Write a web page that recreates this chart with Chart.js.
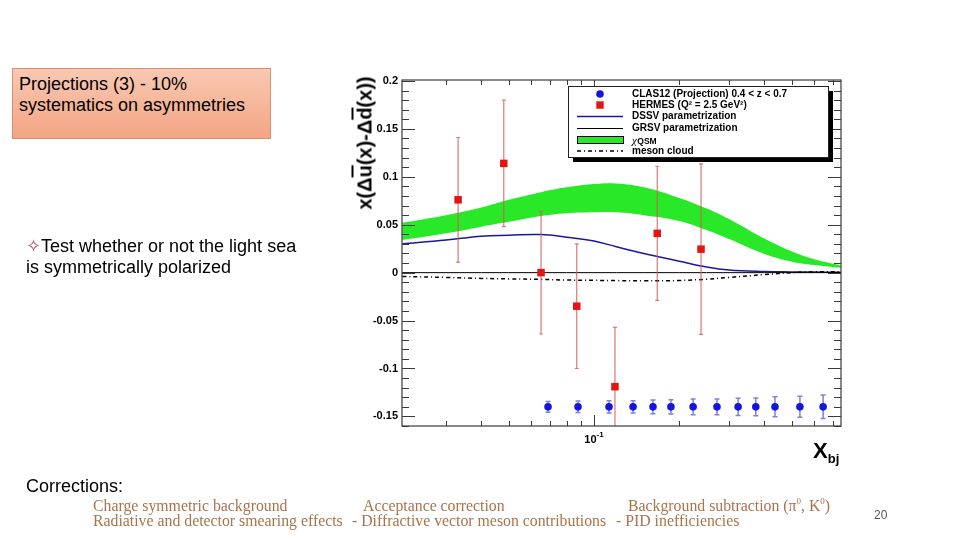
<!DOCTYPE html>
<html>
<head>
<meta charset="utf-8">
<script src="https://cdn.jsdelivr.net/npm/chart.js@4"></script>
<style>
  html, body { margin: 0; padding: 0; background: #fff; }
  #slide { position: relative; width: 960px; height: 540px; overflow: hidden; font-family: "Liberation Sans", Arial, sans-serif; }
  #chart { position: absolute; left: 0; top: 0; }
  .txt { position: absolute; color: #000; white-space: nowrap; font-size: 18px; line-height: 21px; }
  .box { position: absolute; left: 12px; top: 68px; width: 257px; height: 69px; border: 1px solid #d8906c;
         background: linear-gradient(#f9c8b2, #f3a584); }
  .serif { position: absolute; white-space: nowrap; font-family: "Liberation Serif", "Times New Roman", serif;
           font-size: 15.8px; line-height: 15px; color: #a8744c; }
  .serif sup { font-size: 9px; line-height: 0; position: relative; top: -1px; vertical-align: super; }
  .ytitle { position: absolute; left: 365px; top: 143px; transform: translate(-50%, -50%) rotate(-90deg);
            font-weight: bold; font-size: 20px; white-space: nowrap; }
  .ov { text-decoration: overline; }
  .xtitle { position: absolute; left: 813px; top: 438px; font-weight: bold; font-size: 22px; }
  .xtitle sub { font-size: 13px; vertical-align: -5px; }
</style>
</head>
<body>
<div id="slide">
  <canvas id="chart" width="960" height="540"></canvas>

  <div class="box"></div>
  <div class="txt" style="left:19px; top:74px;">Projections (3) - 10%<br>systematics on asymmetries</div>

  <div class="txt" style="left:26px; top:236px;"><span style="color:#a04848;">&#x2727;</span>Test whether or not the light sea<br>is symmetrically polarized</div>

  <div class="txt" style="left:26px; top:476px;">Corrections:</div>

  <div class="serif" style="left:93px; top:498px;">Charge symmetric background</div>
  <div class="serif" style="left:363px; top:498px;">Acceptance correction</div>
  <div class="serif" style="left:628px; top:498px;">Background subtraction (&pi;<sup>0</sup>, K<sup>0</sup>)</div>
  <div class="serif" style="left:93px; top:513px;">Radiative and detector smearing effects</div>
  <div class="serif" style="left:352px; top:513px;">- Diffractive vector meson contributions</div>
  <div class="serif" style="left:616px; top:513px;">- PID inefficiencies</div>

  <div class="txt" style="left:874px; top:507px; font-size:12px; line-height:16px; color:#555;">20</div>

  <div class="ytitle">x(&Delta;<span class="ov">u</span>(x)-&Delta;<span class="ov">d</span>(x))</div>
  <div class="xtitle">X<sub>bj</sub></div>
</div>

<script>
// curve sampling points (x_bj)
const curveX    = [0.021, 0.03, 0.04, 0.05, 0.065, 0.08, 0.1, 0.12, 0.15, 0.2, 0.25, 0.3, 0.4, 0.5, 0.6, 0.745];
const qsmUpper  = [0.052, 0.060, 0.068, 0.076, 0.084, 0.089, 0.0925, 0.093, 0.089, 0.078, 0.067, 0.056, 0.0355, 0.022, 0.014, 0.0075];
const qsmLower  = [0.034, 0.041, 0.048, 0.053, 0.059, 0.062, 0.063, 0.063, 0.060, 0.054, 0.0445, 0.035, 0.0195, 0.0115, 0.008, 0.005];
const dssv      = [0.030, 0.034, 0.038, 0.039, 0.0397, 0.037, 0.033, 0.027, 0.020, 0.012, 0.006, 0.0028, 0.0012, 0.0008, 0.0006, 0.0005];
const grsv      = [0, 0, 0, 0, 0, 0, 0, 0, 0, 0, 0, 0, 0, 0, 0, 0];
const mesonCloud = [-0.004, -0.005, -0.006, -0.0065, -0.007, -0.0077, -0.008, -0.0083, -0.0085, -0.0082, -0.0068, -0.005, -0.002, 0.0, 0.0008, 0.001];

// HERMES points
const hermesX   = [0.0331, 0.0480, 0.0650, 0.0869, 0.1186, 0.1673, 0.2389];
const hermesY   = [0.076, 0.114, 0.000, -0.035, -0.119, 0.041, 0.0245];
const hermesErr = [0.065, 0.066, 0.064, 0.065, 0.062, 0.070, 0.089];

// CLAS12 projection
const clasX   = [0.0688, 0.0878, 0.113, 0.1374, 0.1616, 0.187, 0.224, 0.272, 0.323, 0.373, 0.436, 0.534, 0.645];
const clasY   = [-0.14, -0.14, -0.14, -0.14, -0.14, -0.14, -0.14, -0.14, -0.14, -0.14, -0.14, -0.14, -0.14];
const clasErr = [0.0056, 0.006, 0.0064, 0.0064, 0.0071, 0.0075, 0.0082, 0.0083, 0.009, 0.0092, 0.0104, 0.011, 0.0123];

// axes
const yTicks      = [-0.15, -0.1, -0.05, 0, 0.05, 0.1, 0.15, 0.2];
const yMinorStep  = 0.01;
const xMajorTicks = [0.1];
const xMajorLabels = [['10', '-1']];
const xMinorTicks = [0.03, 0.04, 0.05, 0.06, 0.07, 0.08, 0.09, 0.2, 0.3, 0.4, 0.5, 0.6, 0.7];

const legendLabels = ['CLAS12 (Projection) 0.4 < z < 0.7', 'HERMES (Q\u00B2 = 2.5 GeV\u00B2)',
                      'DSSV parametrization', 'GRSV parametrization', 'QSM', 'meson cloud'];

const RED = 'rgb(228,20,20)';
const BLUE = 'rgb(20,20,225)';
const GREEN = 'rgb(40,232,40)';
const NAVY = 'rgb(25,25,160)';
const FONT = '"Liberation Sans", Arial, sans-serif';

const pts = (xs, ys) => xs.map((x, i) => ({ x: x, y: ys[i] }));

function drawErrors(chart, xs, ys, errs, color, width, cap) {
    const ctx = chart.ctx, sx = chart.scales.x, sy = chart.scales.y, a = chart.chartArea;
    ctx.save();
    ctx.beginPath();
    ctx.rect(a.left, a.top, a.right - a.left, a.bottom - a.top);
    ctx.clip();
    ctx.strokeStyle = color;
    ctx.lineWidth = width;
    xs.forEach((x, i) => {
        const px = sx.getPixelForValue(x);
        const top = sy.getPixelForValue(ys[i] + errs[i]);
        const bot = sy.getPixelForValue(ys[i] - errs[i]);
        ctx.beginPath();
        ctx.moveTo(px, top); ctx.lineTo(px, bot);
        ctx.moveTo(px - cap, top); ctx.lineTo(px + cap, top);
        ctx.moveTo(px - cap, bot); ctx.lineTo(px + cap, bot);
        ctx.stroke();
    });
    ctx.restore();
}

const errorBars = {
    id: 'errorBars',
    beforeDatasetDraw(chart, args) {
        if (args.index === 0) drawErrors(chart, clasX, clasY, clasErr, 'rgba(85,85,205,0.75)', 1.5, 2.5);
        if (args.index === 1) drawErrors(chart, hermesX, hermesY, hermesErr, 'rgba(215,85,85,0.8)', 1.2, 2);
    }
};

const frame = {
    id: 'frame',
    afterDatasetsDraw(chart) {
        const ctx = chart.ctx, sx = chart.scales.x, sy = chart.scales.y, a = chart.chartArea;
        ctx.save();
        ctx.strokeStyle = '#3a3a3a';
        ctx.lineWidth = 1.2;
        ctx.strokeRect(a.left, a.top, a.right - a.left, a.bottom - a.top);
        ctx.lineWidth = 1;
        ctx.beginPath();
        // y ticks, both sides
        for (let k = -16; k <= 20; k++) {
            const v = k * yMinorStep;
            const py = Math.round(sy.getPixelForValue(v)) + 0.5;
            const major = k % 5 === 0;
            const len = major ? 13 : 7;
            ctx.moveTo(a.left, py); ctx.lineTo(a.left + len, py);
            ctx.moveTo(a.right, py); ctx.lineTo(a.right - len, py);
        }
        // x ticks, bottom and top
        xMinorTicks.concat(xMajorTicks).forEach(v => {
            const px = Math.round(sx.getPixelForValue(v)) + 0.5;
            const len = xMajorTicks.includes(v) ? 11 : 5;
            ctx.moveTo(px, a.bottom); ctx.lineTo(px, a.bottom - len);
            ctx.moveTo(px, a.top); ctx.lineTo(px, a.top + len);
        });
        ctx.stroke();

        // x tick labels (10^-1)
        ctx.fillStyle = '#000';
        ctx.textBaseline = 'middle';
        xMajorTicks.forEach((v, i) => {
            const px = sx.getPixelForValue(v);
            ctx.font = 'bold 11px ' + FONT;
            const base = xMajorLabels[i][0];
            const w1 = ctx.measureText(base).width;
            ctx.font = 'bold 8px ' + FONT;
            const w2 = ctx.measureText(xMajorLabels[i][1]).width;
            const x0 = px - (w1 + w2) / 2;
            ctx.font = 'bold 11px ' + FONT;
            ctx.textAlign = 'left';
            ctx.fillText(base, x0, a.bottom + 14);
            ctx.font = 'bold 8px ' + FONT;
            ctx.fillText(xMajorLabels[i][1], x0 + w1, a.bottom + 9);
        });
        ctx.restore();
    }
};

const rootLegend = {
    id: 'rootLegend',
    afterDraw(chart) {
        const ctx = chart.ctx;
        const L = 568, T = 86, W = 260, H = 71;
        ctx.save();
        ctx.fillStyle = '#000';
        ctx.fillRect(L + 5, T + 5, W, H);
        ctx.fillStyle = '#fff';
        ctx.fillRect(L, T, W, H);
        ctx.strokeStyle = '#222';
        ctx.lineWidth = 1;
        ctx.strokeRect(L + 0.5, T + 0.5, W, H);

        const rows = [94, 105, 116.5, 128, 140, 151];
        const sx0 = 577, sx1 = 623, scx = 600, tx = 632;
        // CLAS12
        ctx.fillStyle = BLUE;
        ctx.beginPath(); ctx.arc(scx, rows[0], 3.8, 0, Math.PI * 2); ctx.fill();
        // HERMES
        ctx.fillStyle = RED;
        ctx.fillRect(scx - 3.7, rows[1] - 3.7, 7.4, 7.4);
        // DSSV
        ctx.strokeStyle = NAVY; ctx.lineWidth = 1.5;
        ctx.beginPath(); ctx.moveTo(sx0, rows[2]); ctx.lineTo(sx1, rows[2]); ctx.stroke();
        // GRSV
        ctx.strokeStyle = '#000'; ctx.lineWidth = 1;
        ctx.beginPath(); ctx.moveTo(sx0, rows[3] + 0.5); ctx.lineTo(sx1, rows[3] + 0.5); ctx.stroke();
        // QSM band
        ctx.fillStyle = GREEN;
        ctx.fillRect(sx0, rows[4] - 3.5, sx1 - sx0, 7);
        ctx.strokeStyle = '#000';
        ctx.strokeRect(sx0 + 0.5, rows[4] - 3.5, sx1 - sx0, 7);
        // meson cloud
        ctx.setLineDash([4, 3, 1, 3]);
        ctx.lineWidth = 1.5;
        ctx.beginPath(); ctx.moveTo(sx0, rows[5]); ctx.lineTo(sx1, rows[5]); ctx.stroke();
        ctx.setLineDash([]);

        ctx.fillStyle = '#000';
        ctx.textAlign = 'left';
        legendLabels.forEach((t, i) => {
            if (i === 4) {
                ctx.textBaseline = 'alphabetic';
                ctx.font = 'italic 11px "Liberation Serif", serif';
                ctx.fillText('\u03C7', tx, rows[i] + 4);
                const w = ctx.measureText('\u03C7').width;
                ctx.font = 'bold 8.5px ' + FONT;
                ctx.fillText(t, tx + w + 0.5, rows[i] + 4);
            } else {
                ctx.textBaseline = 'middle';
                ctx.font = 'bold 10px ' + FONT;
                ctx.fillText(t, tx, rows[i]);
            }
        });
        ctx.restore();
    }
};

const ctx = document.getElementById('chart');
new Chart(ctx, {
    type: 'line',
    data: {
        datasets: [
            {
                label: legendLabels[0],
                data: pts(clasX, clasY),
                showLine: false,
                pointStyle: 'circle',
                pointRadius: 3.8,
                backgroundColor: BLUE,
                borderColor: BLUE,
                borderWidth: 0,
                order: 0
            },
            {
                label: legendLabels[1],
                data: pts(hermesX, hermesY),
                showLine: false,
                pointStyle: 'rect',
                pointRadius: 5.3,
                backgroundColor: RED,
                borderColor: RED,
                borderWidth: 0,
                order: 1
            },
            {
                label: legendLabels[5],
                data: pts(curveX, mesonCloud),
                borderColor: '#000',
                borderWidth: 1.5,
                borderDash: [4, 3, 1, 3],
                pointRadius: 0,
                tension: 0.4,
                order: 2
            },
            {
                label: legendLabels[3],
                data: pts(curveX, grsv),
                borderColor: '#000',
                borderWidth: 1,
                pointRadius: 0,
                order: 3
            },
            {
                label: legendLabels[2],
                data: pts(curveX, dssv),
                borderColor: NAVY,
                borderWidth: 1.5,
                pointRadius: 0,
                tension: 0.4,
                order: 4
            },
            {
                label: 'QSM upper',
                data: pts(curveX, qsmUpper),
                borderColor: 'rgba(0,0,0,0)',
                borderWidth: 0.01,
                backgroundColor: GREEN,
                fill: '+1',
                pointRadius: 0,
                tension: 0.4,
                order: 5
            },
            {
                label: 'QSM lower',
                data: pts(curveX, qsmLower),
                borderColor: 'rgba(0,0,0,0)',
                borderWidth: 0.01,
                pointRadius: 0,
                tension: 0.4,
                order: 6
            }
        ]
    },
    options: {
        responsive: false,
        animation: false,
        devicePixelRatio: 1,
        layout: { padding: { left: 342, right: 119, top: 80, bottom: 84 } },
        plugins: {
            legend: { display: false },
            tooltip: { enabled: false }
        },
        scales: {
            x: {
                type: 'logarithmic',
                min: 0.02097,
                max: 0.746,
                grid: { display: false },
                border: { display: false },
                ticks: { display: false },
                afterBuildTicks: scale => { scale.ticks = xMajorTicks.map(v => ({ value: v })); },
                afterFit: scale => { scale.height = 30; }
            },
            y: {
                min: -0.16,
                max: 0.201,
                grid: { display: false, drawTicks: false },
                border: { display: false },
                afterBuildTicks: scale => { scale.ticks = yTicks.map(v => ({ value: v })); },
                afterFit: scale => { scale.width = 60; },
                ticks: {
                    padding: 4,
                    color: '#000',
                    font: { family: FONT, weight: 'bold', size: 11 },
                    callback: v => String(+Number(v).toFixed(2))
                }
            }
        }
    },
    plugins: [errorBars, frame, rootLegend]
});
</script>
</body>
</html>
